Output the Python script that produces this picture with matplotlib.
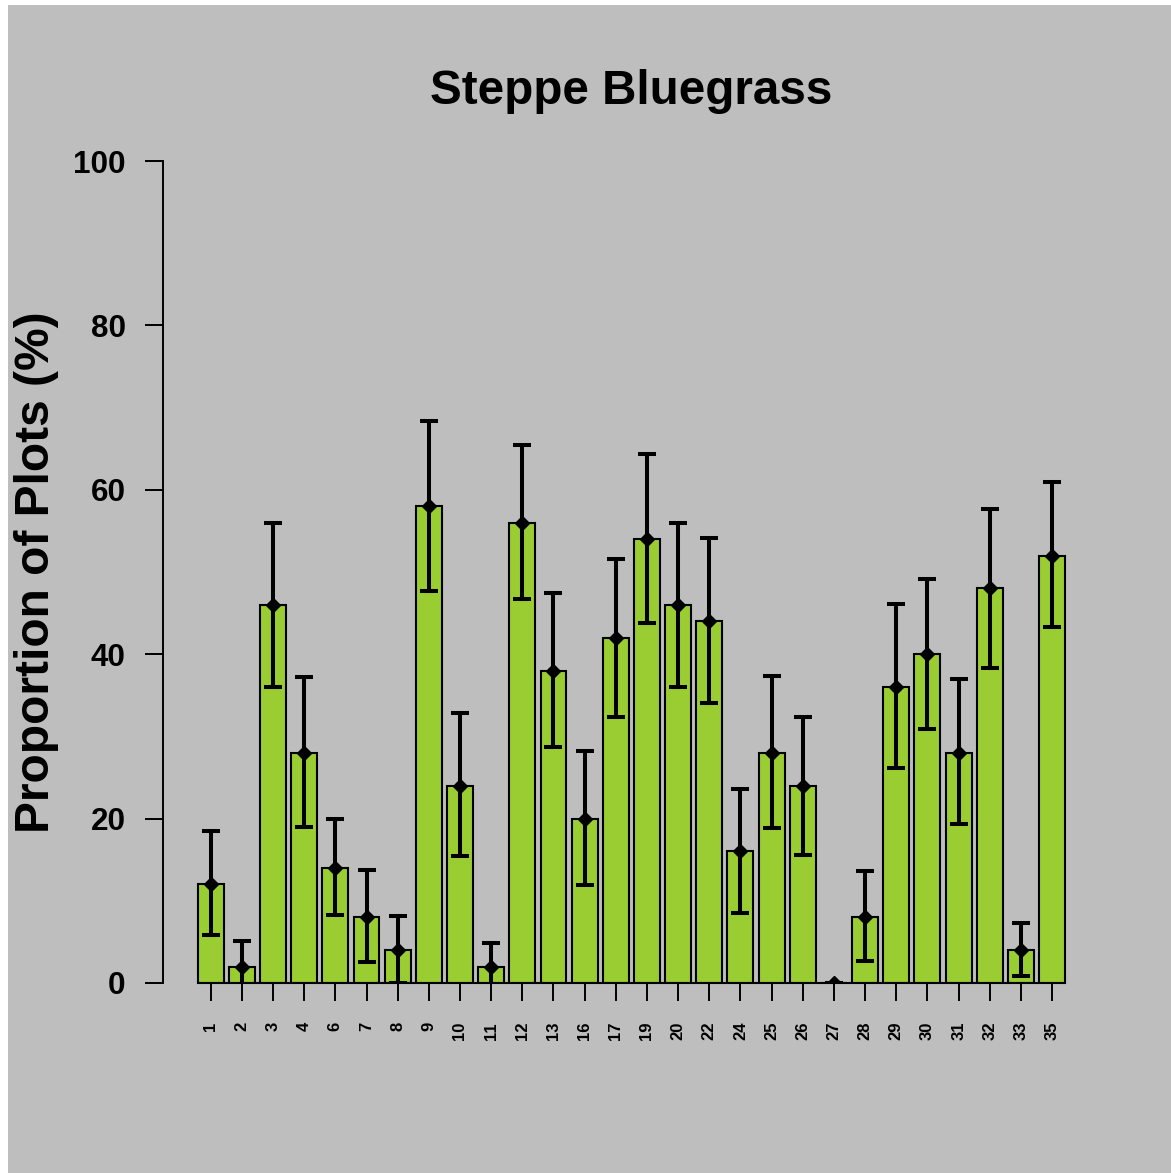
import matplotlib
matplotlib.use("Agg")
from matplotlib import pyplot as plt
from matplotlib.patches import Rectangle
import numpy as np

plt.rcParams['font.family'] = ['Liberation Sans', 'DejaVu Sans']
plt.rcParams['font.weight'] = 'bold'

sites = ['1', '2', '3', '4', '6', '7', '8', '9', '10', '11', '12', '13', '16', '17',
         '19', '20', '22', '24', '25', '26', '27', '28', '29', '30', '31', '32', '33', '35']
percent = [12, 2, 46, 28, 14, 8, 4, 58, 24, 2, 56, 38, 20, 42,
           54, 46, 44, 16, 28, 24, 0, 8, 36, 40, 28, 48, 4, 52]
upper = [18.5, 5.1, 56.0, 37.2, 20.0, 13.7, 8.1, 68.4, 32.9, 4.9, 65.5, 47.5, 28.2, 51.6,
         64.3, 56.0, 54.1, 23.6, 37.3, 32.4, 0, 13.6, 46.1, 49.1, 37.0, 57.7, 7.3, 60.9]
lower = [5.8, -1.9, 36.0, 19.0, 8.3, 2.5, 0, 47.7, 15.4, -1.9, 46.7, 28.7, 11.9, 32.4,
         43.8, 36.0, 34.1, 8.5, 18.8, 15.6, 0, 2.7, 26.1, 30.9, 19.3, 38.3, 0.8, 43.3]

grey = '#BEBEBE'
fig = plt.figure(figsize=(11.71, 11.73), dpi=100, facecolor='white')
# grey device background with the thin white margin at top/left
fig.patches.append(Rectangle((8 / 1171, 0), 1, (1173 - 5) / 1173,
                             transform=fig.transFigure, facecolor=grey,
                             edgecolor='none', zorder=-10))

ax = fig.add_axes([163 / 1171, (1173 - 983) / 1173, 0.8, 822 / 1173])
ax.set_facecolor('none')

# R barplot layout: width 1, space 0.2
x = 0.7 + 1.2 * np.arange(len(sites))
ax.bar(x, percent, width=1.0, color='#9ACD32', edgecolor='black', linewidth=1.5)

pct = np.array(percent)
yerr = [pct - np.array(lower), np.array(upper) - pct]
ax.errorbar(x, pct, yerr=yerr, fmt='D', color='black', markersize=7,
            elinewidth=2.9, capsize=6.5, capthick=2.9, zorder=5)

ax.plot([x[0] - 0.5, x[-1] + 0.5], [0, 0], color='black', lw=1.5,
        clip_on=False, zorder=6)

ax.set_xlim(-1.136, 34.936)
ax.set_ylim(0, 100)

for s in ['top', 'right', 'bottom']:
    ax.spines[s].set_visible(False)
ax.spines['left'].set_linewidth(1.4)

ax.set_yticks([0, 20, 40, 60, 80, 100])
ax.tick_params(axis='y', length=13, width=1.4, pad=14, labelsize=22.6)
ax.set_xticks(x)
ax.set_xticklabels(sites, rotation=90)
ax.tick_params(axis='x', length=13, width=1.4, pad=15, labelsize=12)
for lab in ax.get_yticklabels() + ax.get_xticklabels():
    lab.set_fontweight('bold')

ax.set_ylabel('Proportion of Plots (%)', fontsize=34.5, fontweight='bold')
ax.yaxis.set_label_coords(-0.135, 0.5)
ax.yaxis.label.set_va('center')

ax.set_title('Steppe Bluegrass', fontsize=34.3, fontweight='bold', y=1.069, pad=0)

fig.savefig('out.png', dpi=100, facecolor=fig.get_facecolor())
